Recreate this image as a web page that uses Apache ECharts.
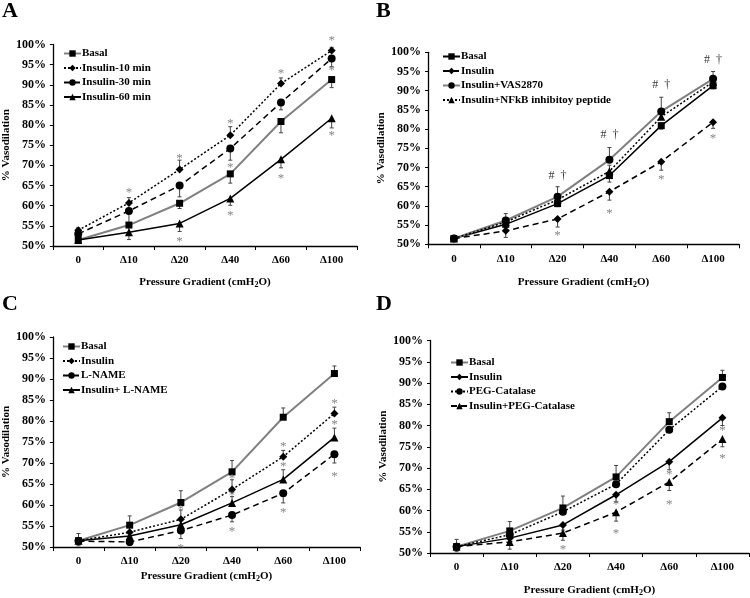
<!DOCTYPE html>
<html>
<head>
<meta charset="utf-8">
<script src="https://cdn.jsdelivr.net/npm/echarts@6/dist/echarts.min.js"></script>
<style>
    html, body { margin: 0; padding: 0; background: #fff; }
    #main { width: 750px; height: 598px; }
</style>
</head>
<body>
<div id="main"></div>
<script>
// 横轴类别与纵轴刻度
const categories = ['0', 'Δ10', 'Δ20', 'Δ40', 'Δ60', 'Δ100'];
const yMin = 50, yMax = 100, yStep = 5;

// 公共基线
const basal = [51.5, 55.2, 60.6, 67.9, 80.9, 91.3];
const insulin = [51.5, 53.5, 56.6, 63.7, 71.5, 81.8];

// A
const ins10A = [53.9, 60.7, 69.0, 77.5, 90.3, 98.5];
const ins30A = [53.0, 58.7, 65.0, 74.2, 85.6, 96.5];
const ins60A = [51.5, 53.4, 55.6, 61.8, 71.5, 81.7];
const errBasalA = [50.7, 53.3, 59.3, 65.6, 78.1, 89.3];
const errIns10A = [54.5, 62.0, 71.3, 79.6, 91.7, 99.3];
const errIns30A = [52.2, 55.0, 62.2, 71.3, 83.8, 94.5];
const errIns60A = [50.6, 51.6, 53.6, 60.1, 69.4, 79.3];
const starsA = [[1, 64.0], [2, 72.4], [3, 81.0], [4, 93.6], [5, 101.6], [3, 70.2], [5, 94.3], [2, 51.8], [3, 58.3], [4, 67.4], [5, 78.1]];

// B
const vasB = [51.5, 56.2, 62.4, 72.0, 84.6, 93.1];
const nfkbB = [51.5, 55.8, 61.6, 69.0, 83.2, 92.3];
const errBasalB = [null, 54.3, 59.8, 66.2, 80.0, 90.5];
const errInsB = [null, 51.8, 54.5, 61.5, 69.3, 80.2];
const errVasB = [null, 58.0, 65.0, 75.2, 88.3, 95.0];
const errNfkbB = [null, null, null, 70.6, null, null];
const starsB = [[2, 53.0], [3, 58.9], [4, 67.6], [5, 78.3]];
const marksB = [[2, 67.9], [3, 78.4], [4, 91.4], [5, 98.0]];

// C
const lnameC = [51.4, 51.2, 53.9, 57.6, 62.8, 72.1];
const insLnameC = [51.5, 52.6, 55.3, 60.5, 66.1, 76.1];
const errBasalC = [53.2, 57.4, 63.4, 70.6, 83.1, 93.1];
const errInsC = [null, 54.8, 58.8, 66.0, 73.0, 83.3];
const errLnameC = [50.3, 50.4, 52.0, 56.0, 60.5, 70.0];
const errInsLnameC = [null, null, 56.5, 62.0, 68.4, 78.3];
const starsC = [[2, 59.7], [2, 50.3], [3, 67.0], [3, 62.9], [3, 54.3], [4, 74.7], [4, 69.8], [4, 58.9], [5, 84.8], [5, 79.8], [5, 67.6]];

// D
const pegD = [51.5, 54.3, 59.7, 66.2, 79.0, 89.2];
const insPegD = [51.5, 52.6, 54.7, 59.6, 66.7, 76.8];
const errBasalD = [53.2, 57.4, 63.4, 70.6, 83.0, 93.0];
const errInsD = [null, 52.2, 55.4, 62.0, 69.6, 80.0];
const errInsPegD = [50.3, 50.9, 53.0, 57.5, 64.7, 75.0];
const starsD = [[2, 51.6], [3, 62.1], [3, 55.2], [4, 69.1], [4, 62.1], [5, 79.4], [5, 73.0]];

(function () {
    const FONT = 'Liberation Serif';
    const GRAY = '#808080';
    const DASH = [6, 4];
    const DOT = [2, 2];
    const chart = echarts.init(document.getElementById('main'));

    // 四个子图的布局
    const panels = [
        { key: 'A', grid: { left: 45, top: 44.5, width: 312, height: 201.5 }, nameGapX: 29, nameGapY: 38, title: [2, 0], legend: [58, 43] },
        { key: 'B', grid: { left: 428, top: 52.3, width: 311, height: 192 }, nameGapX: 31, nameGapY: 35, title: [376, 0], legend: [437, 46] },
        { key: 'C', grid: { left: 46, top: 337, width: 314, height: 210 }, nameGapX: 22, nameGapY: 39, title: [2, 293], legend: [57, 336] },
        { key: 'D', grid: { left: 430, top: 340.5, width: 319, height: 214.5 }, nameGapX: 30, nameGapY: 37, title: [376, 293], legend: [445, 352] }
    ];

    const lines = [
        [
            ['Basal', basal, errBasalA, GRAY, 'solid', 'rect'],
            ['Insulin-10 min', ins10A, errIns10A, '#000', DOT, 'diamond'],
            ['Insulin-30 min', ins30A, errIns30A, '#000', DASH, 'circle'],
            ['Insulin-60 min', ins60A, errIns60A, '#000', 'solid', 'triangle']
        ],
        [
            ['Basal', basal, errBasalB, '#000', 'solid', 'rect'],
            ['Insulin', insulin, errInsB, '#000', DASH, 'diamond'],
            ['Insulin+VAS2870', vasB, errVasB, GRAY, 'solid', 'circle'],
            ['Insulin+NFkB inhibitoy peptide', nfkbB, errNfkbB, '#000', DOT, 'triangle']
        ],
        [
            ['Basal', basal, errBasalC, GRAY, 'solid', 'rect'],
            ['Insulin', insulin, errInsC, '#000', DOT, 'diamond'],
            ['L-NAME', lnameC, errLnameC, '#000', DASH, 'circle'],
            ['Insulin+ L-NAME', insLnameC, errInsLnameC, '#000', 'solid', 'triangle']
        ],
        [
            ['Basal', basal, errBasalD, GRAY, 'solid', 'rect'],
            ['Insulin', insulin, errInsD, '#000', 'solid', 'diamond'],
            ['PEG-Catalase', pegD, [], '#000', DOT, 'circle'],
            ['Insulin+PEG-Catalase', insPegD, errInsPegD, '#000', DASH, 'triangle']
        ]
    ];
    const stars = [starsA, starsB, starsC, starsD];
    const marks = [[], marksB, [], []];

    const symbolSizes = { rect: 7, diamond: 8, circle: 8, triangle: 8 };

    function errorItem(params, api) {
        const p1 = api.coord([api.value(0), api.value(1)]);
        const p2 = api.coord([api.value(0), api.value(2)]);
        const st = { stroke: '#444', lineWidth: 1 };
        return {
            type: 'group',
            children: [
                { type: 'line', shape: { x1: p1[0], y1: p1[1], x2: p2[0], y2: p2[1] }, style: st },
                { type: 'line', shape: { x1: p2[0] - 2, y1: p2[1], x2: p2[0] + 2, y2: p2[1] }, style: st }
            ]
        };
    }

    function textSeries(idx, data, text, color, size, dy) {
        return {
            type: 'scatter',
            xAxisIndex: idx,
            yAxisIndex: idx,
            data: data,
            symbolSize: 1,
            itemStyle: { color: 'rgba(0,0,0,0)' },
            clip: false,
            silent: true,
            z: 6,
            label: {
                show: true, position: 'inside', formatter: text, offset: [0, dy],
                color: color, fontSize: size, fontFamily: FONT
            }
        };
    }

    const grid = [], xAxis = [], yAxis = [], legend = [], title = [], series = [];

    panels.forEach((p, idx) => {
        grid.push(Object.assign({ containLabel: false }, p.grid));
        title.push({
            text: p.key, left: p.title[0], top: p.title[1], padding: 0,
            textStyle: { fontFamily: FONT, fontWeight: 'bold', fontSize: 22, color: '#000' }
        });
        xAxis.push({
            type: 'category', gridIndex: idx, data: categories, boundaryGap: true,
            name: '{t|Pressure Gradient (cmH}{s|2}{t|O)}', nameLocation: 'middle', nameGap: p.nameGapX,
            nameTextStyle: {
                rich: {
                    t: { fontFamily: FONT, fontWeight: 'bold', fontSize: 11, color: '#000' },
                    s: { fontFamily: FONT, fontWeight: 'bold', fontSize: 8, color: '#000', verticalAlign: 'bottom', padding: [6, 0, 0, 0] }
                }
            },
            axisLine: { lineStyle: { color: '#000', width: 1.3 } },
            axisTick: { show: true, length: 4, inside: false, lineStyle: { color: '#000' } },
            axisLabel: { margin: 9, fontFamily: FONT, fontWeight: 'bold', fontSize: 11, color: '#000' },
            splitLine: { show: false }
        });
        yAxis.push({
            type: 'value', gridIndex: idx, min: yMin, max: yMax, interval: yStep,
            name: '% Vasodilation', nameLocation: 'middle', nameGap: p.nameGapY, nameRotate: 90,
            nameTextStyle: { fontFamily: FONT, fontWeight: 'bold', fontSize: 11, color: '#000' },
            axisLine: { show: true, lineStyle: { color: '#000', width: 1.3 } },
            axisTick: { show: true, length: 3, lineStyle: { color: '#000' } },
            axisLabel: { margin: 7, formatter: '{value}%', fontFamily: FONT, fontWeight: 'bold', fontSize: 12, color: '#000' },
            splitLine: { show: false }
        });

        const names = [];
        lines[idx].forEach(([label, values, errs, color, dash, sym]) => {
            const name = p.key + '|' + label;
            names.push(name);
            series.push({
                name: name, type: 'line', xAxisIndex: idx, yAxisIndex: idx,
                data: values, symbol: sym, symbolSize: symbolSizes[sym], showSymbol: true,
                lineStyle: { color: color, width: color === GRAY ? 2 : 1.5, type: dash },
                itemStyle: { color: '#000', borderWidth: 0 },
                z: 4, animation: false
            });
            const errData = [];
            (errs || []).forEach((e, i) => { if (e != null) errData.push([i, values[i], e]); });
            series.push({
                type: 'custom', xAxisIndex: idx, yAxisIndex: idx, data: errData,
                encode: { x: 0, y: [1, 2] }, renderItem: errorItem, z: 3, silent: true, animation: false
            });
        });

        legend.push({
            data: names, orient: 'vertical', left: p.legend[0], top: p.legend[1],
            itemWidth: 17, itemHeight: 8, itemGap: 3.5, selectedMode: false,
            formatter: n => n.split('|')[1],
            textStyle: { fontFamily: FONT, fontWeight: 'bold', fontSize: 11, color: '#000', padding: [0, 0, 0, -4] }
        });

        series.push(textSeries(idx, stars[idx], '*', '#666', 13, 3));
        if (marks[idx].length) series.push(textSeries(idx, marks[idx], '#  †', '#000', 12, 0));
    });

    chart.setOption({
        animation: false,
        backgroundColor: '#fff',
        title: title, grid: grid, xAxis: xAxis, yAxis: yAxis, legend: legend, series: series
    });

    window.addEventListener('resize', () => chart.resize());
})();
</script>
</body>
</html>
